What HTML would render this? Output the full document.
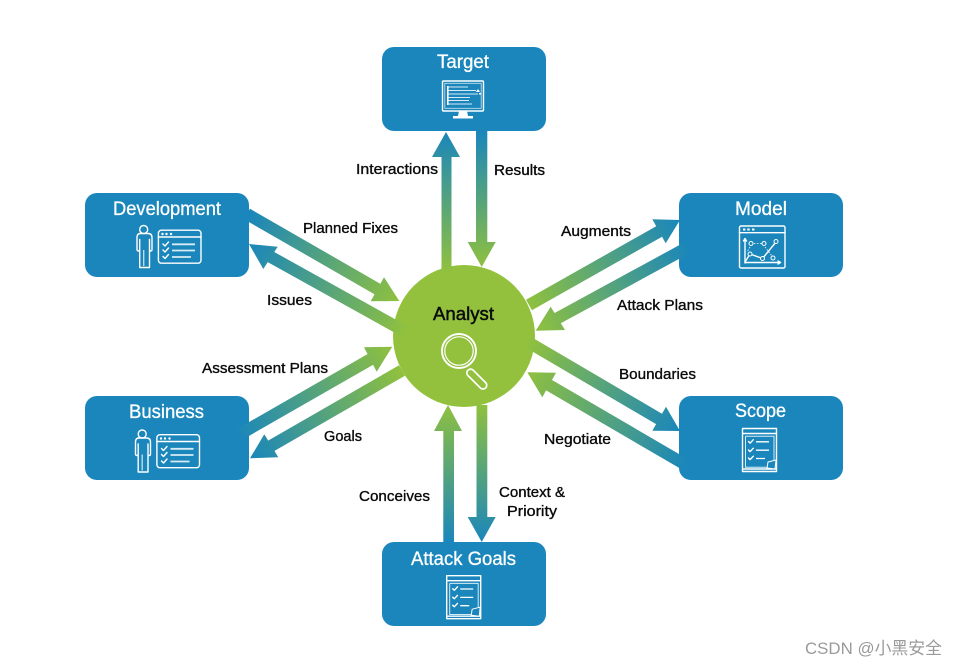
<!DOCTYPE html>
<html>
<head>
<meta charset="utf-8">
<style>
html,body{margin:0;padding:0;background:#fff;width:957px;height:666px;overflow:hidden}
svg{display:block}
.l{font-family:"Liberation Sans",sans-serif;font-size:15px;fill:#0a0a0a;stroke:#0a0a0a;stroke-width:.35px}
.t{font-family:"Liberation Sans",sans-serif;font-size:19.5px;fill:#fff;stroke:#fff;stroke-width:.3px}
.i{fill:none;stroke:#fff;stroke-width:1.4;stroke-linejoin:round;stroke-linecap:round}
.s{fill:none;stroke:#d8ebf4;stroke-width:1.8;stroke-linecap:butt}
</style>
</head>
<body>
<svg width="957" height="666" viewBox="0 0 957 666" xmlns="http://www.w3.org/2000/svg">
<defs>
<linearGradient id="g1" gradientUnits="userSpaceOnUse" x1="446" y1="132" x2="446" y2="270"><stop offset="0" stop-color="#1a86bb"/><stop offset="1" stop-color="#8fc03f"/></linearGradient>
<linearGradient id="g2" gradientUnits="userSpaceOnUse" x1="482" y1="131" x2="482" y2="267"><stop offset="0" stop-color="#1a86bb"/><stop offset="1" stop-color="#8fc03f"/></linearGradient>
<linearGradient id="g3" gradientUnits="userSpaceOnUse" x1="249" y1="215" x2="399" y2="301"><stop offset="0" stop-color="#1a86bb"/><stop offset="1" stop-color="#8fc03f"/></linearGradient>
<linearGradient id="g4" gradientUnits="userSpaceOnUse" x1="249" y1="244" x2="404" y2="331"><stop offset="0" stop-color="#1a86bb"/><stop offset="1" stop-color="#8fc03f"/></linearGradient>
<linearGradient id="g5" gradientUnits="userSpaceOnUse" x1="680" y1="220" x2="529" y2="305"><stop offset="0" stop-color="#1a86bb"/><stop offset="1" stop-color="#8fc03f"/></linearGradient>
<linearGradient id="g6" gradientUnits="userSpaceOnUse" x1="690" y1="248" x2="536" y2="331"><stop offset="0" stop-color="#1a86bb"/><stop offset="1" stop-color="#8fc03f"/></linearGradient>
<linearGradient id="g7" gradientUnits="userSpaceOnUse" x1="237" y1="436" x2="392" y2="347"><stop offset="0" stop-color="#1a86bb"/><stop offset="1" stop-color="#8fc03f"/></linearGradient>
<linearGradient id="g8" gradientUnits="userSpaceOnUse" x1="250" y1="458" x2="400" y2="372"><stop offset="0" stop-color="#1a86bb"/><stop offset="1" stop-color="#8fc03f"/></linearGradient>
<linearGradient id="g9" gradientUnits="userSpaceOnUse" x1="680" y1="431" x2="530" y2="343"><stop offset="0" stop-color="#1a86bb"/><stop offset="1" stop-color="#8fc03f"/></linearGradient>
<linearGradient id="g10" gradientUnits="userSpaceOnUse" x1="686" y1="465" x2="527" y2="372"><stop offset="0" stop-color="#1a86bb"/><stop offset="1" stop-color="#8fc03f"/></linearGradient>
<linearGradient id="g11" gradientUnits="userSpaceOnUse" x1="448" y1="542" x2="448" y2="405"><stop offset="0" stop-color="#1a86bb"/><stop offset="1" stop-color="#8fc03f"/></linearGradient>
<linearGradient id="g12" gradientUnits="userSpaceOnUse" x1="482" y1="542" x2="482" y2="405"><stop offset="0" stop-color="#1a86bb"/><stop offset="1" stop-color="#8fc03f"/></linearGradient>
</defs>

<rect width="957" height="666" fill="#fff"/>

<!-- boxes -->
<g fill="#1a86bb">
<rect x="382" y="47" width="164" height="84" rx="12"/>
<rect x="85" y="193" width="164" height="84" rx="12"/>
<rect x="679" y="193" width="164" height="84" rx="12"/>
<rect x="85" y="396" width="164" height="84" rx="12"/>
<rect x="679" y="396" width="164" height="84" rx="12"/>
<rect x="382" y="542" width="164" height="84" rx="12"/>
</g>

<!-- circle -->
<circle cx="464" cy="336" r="71" fill="#93c13e"/>

<!-- arrows -->
<polygon fill="url(#g1)" points="441.5,272 451.5,272 451.5,157 460,157 446,132 432,157 441.5,157"/>
<polygon fill="url(#g2)" points="476,131 487.3,131 487.3,242 495.7,242 481.7,267 467.7,242 476,242"/>

<line x1="247" y1="214" x2="380" y2="290.5" stroke="url(#g3)" stroke-width="12"/>
<polygon fill="url(#g3)" points="399.3,301 384,277.3 370.7,301.3"/>

<line x1="404" y1="331" x2="270" y2="256.5" stroke="url(#g4)" stroke-width="12"/>
<polygon fill="url(#g4)" points="249,244 277.7,246.7 263.3,269"/>

<line x1="529" y1="305" x2="660" y2="231" stroke="url(#g5)" stroke-width="12"/>
<polygon fill="url(#g5)" points="680,220 652.3,219.3 665.7,243.3"/>

<line x1="692" y1="245" x2="557" y2="318.5" stroke="url(#g6)" stroke-width="12"/>
<polygon fill="url(#g6)" points="535.7,330.7 550.7,306.7 565,330"/>

<line x1="235" y1="437" x2="372" y2="358.5" stroke="url(#g7)" stroke-width="12"/>
<polygon fill="url(#g7)" points="392.3,346.7 364,347.3 376.7,371.7"/>

<line x1="402" y1="370.5" x2="270" y2="446.5" stroke="url(#g8)" stroke-width="12"/>
<polygon fill="url(#g8)" points="250,458.3 264.3,434.3 278.3,457.3"/>

<line x1="528" y1="342" x2="660" y2="419.5" stroke="url(#g9)" stroke-width="12"/>
<polygon fill="url(#g9)" points="680,431 666,406.7 652.3,430.7"/>

<line x1="686" y1="465" x2="547" y2="384" stroke="url(#g10)" stroke-width="12"/>
<polygon fill="url(#g10)" points="527.3,372.3 556,372.7 542.3,397.3"/>

<polygon fill="url(#g11)" points="443.3,542 454,542 454,431 462,431 448,405 434,431 443.3,431"/>
<polygon fill="url(#g12)" points="476.5,405 487.3,405 487.3,517 495.7,517 481.7,542 467.7,517 476.5,517"/>

<!-- box titles -->
<text class="t" x="437" y="68" textLength="52" lengthAdjust="spacingAndGlyphs">Target</text>
<text class="t" x="113" y="215" textLength="108" lengthAdjust="spacingAndGlyphs">Development</text>
<text class="t" x="735" y="215" textLength="52" lengthAdjust="spacingAndGlyphs">Model</text>
<text class="t" x="129" y="418" textLength="75" lengthAdjust="spacingAndGlyphs">Business</text>
<text class="t" x="735" y="417" textLength="51" lengthAdjust="spacingAndGlyphs">Scope</text>
<text class="t" x="411" y="565" textLength="105" lengthAdjust="spacingAndGlyphs">Attack Goals</text>

<!-- Analyst -->
<text x="433" y="320" textLength="61" lengthAdjust="spacingAndGlyphs" font-family="'Liberation Sans',sans-serif" font-size="18.5" fill="#0a0a0a" stroke="#0a0a0a" stroke-width=".45">Analyst</text>
<g fill="none" stroke="#fff">
<circle cx="459" cy="351" r="17" stroke-width="1.9"/>
<circle cx="459" cy="351" r="14.2" stroke-width="1.2"/>
<rect x="470" y="369" width="25" height="7.5" rx="3.7" transform="rotate(45 472 369)" stroke-width="1.7"/>
</g>

<!-- labels -->
<text class="l" x="356" y="174" textLength="82" lengthAdjust="spacingAndGlyphs">Interactions</text>
<text class="l" x="494" y="175" textLength="51" lengthAdjust="spacingAndGlyphs">Results</text>
<text class="l" x="303" y="233" textLength="95" lengthAdjust="spacingAndGlyphs">Planned Fixes</text>
<text class="l" x="267" y="305" textLength="45" lengthAdjust="spacingAndGlyphs">Issues</text>
<text class="l" x="561" y="236" textLength="70" lengthAdjust="spacingAndGlyphs">Augments</text>
<text class="l" x="617" y="310" textLength="86" lengthAdjust="spacingAndGlyphs">Attack Plans</text>
<text class="l" x="619" y="379" textLength="77" lengthAdjust="spacingAndGlyphs">Boundaries</text>
<text class="l" x="544" y="444" textLength="67" lengthAdjust="spacingAndGlyphs">Negotiate</text>
<text class="l" x="202" y="373" textLength="126" lengthAdjust="spacingAndGlyphs">Assessment Plans</text>
<text class="l" x="324" y="441" textLength="38" lengthAdjust="spacingAndGlyphs">Goals</text>
<text class="l" x="359" y="501" textLength="71" lengthAdjust="spacingAndGlyphs">Conceives</text>
<text class="l" x="499" y="497" textLength="66" lengthAdjust="spacingAndGlyphs">Context &amp;</text>
<text class="l" x="507" y="516" textLength="50" lengthAdjust="spacingAndGlyphs">Priority</text>

<!-- Target monitor icon -->
<g>
<rect x="442.5" y="81" width="41" height="30" rx="1" class="i"/>
<rect x="444.8" y="83.3" width="36.4" height="25" fill="none" stroke="#cfe5f0" stroke-width=".8"/>
<path d="M459 111 h8 l1 5 h5 v2.5 h-20 v-2.5 h5 z" fill="#fff"/>
<g stroke="#d8ebf4" stroke-width="1">
<path d="M448.5 87 H468 M448.5 90.5 H476 M448.5 94 H478 M448.5 97.5 H470 M448.5 100.5 H469 M448.5 104 H472"/>
</g>
<g fill="#fff">
<rect x="447" y="86" width="1.6" height="19"/>
<path d="M476 92 l2-3 2 3z M479 93 h2 v1.5 h-2z"/>
</g>
</g>

<!-- Development icon -->
<g>
<circle cx="143.7" cy="229.5" r="4" class="i"/>
<path class="i" d="M139.5 233.5 h8.5 q4 0 4 4 v12 q0 1.5 -1.2 1.5 t-1.3 -1.5 v-10 v28 h-8.8 h-1 v-28 v10 q0 1.5 -1.3 1.5 t-1.4 -1.5 v-12 q0 -4 3.5 -4 z"/>
<path d="M143.7 250 v16" stroke="#bcdcec" stroke-width="1.4" fill="none"/>
<rect x="158.4" y="230.2" width="42.6" height="33" rx="3" class="i"/>
<path d="M158.4 237 H201" class="i"/>
<g fill="#fff"><circle cx="162.5" cy="234" r="1.2"/><circle cx="166.5" cy="234" r="1.2"/><circle cx="171" cy="234" r="1.2"/></g>
<path class="i" d="M163 244 l2 2 3.5 -4 M163 250 l2 2 3.5 -4 M163 256.5 l2 2 3.5 -4"/>
<path class="s" d="M172 244.3 H195 M172 250.5 H195 M172 257 H191"/>
</g>
<!-- Business icon -->
<g transform="translate(-1.5 204.5)">
<circle cx="143.7" cy="229.5" r="4" class="i"/>
<path class="i" d="M139.5 233.5 h8.5 q4 0 4 4 v12 q0 1.5 -1.2 1.5 t-1.3 -1.5 v-10 v28 h-8.8 h-1 v-28 v10 q0 1.5 -1.3 1.5 t-1.4 -1.5 v-12 q0 -4 3.5 -4 z"/>
<path d="M143.7 250 v16" stroke="#bcdcec" stroke-width="1.4" fill="none"/>
<rect x="158.4" y="230.2" width="42.6" height="33" rx="3" class="i"/>
<path d="M158.4 237 H201" class="i"/>
<g fill="#fff"><circle cx="162.5" cy="234" r="1.2"/><circle cx="166.5" cy="234" r="1.2"/><circle cx="171" cy="234" r="1.2"/></g>
<path class="i" d="M163 244 l2 2 3.5 -4 M163 250 l2 2 3.5 -4 M163 256.5 l2 2 3.5 -4"/>
<path class="s" d="M172 244.3 H195 M172 250.5 H195 M172 257 H191"/>
</g>

<!-- Model icon -->
<g>
<rect x="739.5" y="226" width="45.5" height="42" rx="1.5" class="i"/>
<path class="i" d="M739.5 232.7 H785"/>
<g fill="#fff"><rect x="743" y="228.5" width="2.4" height="2"/><rect x="747.3" y="228.5" width="2.4" height="2"/><rect x="752" y="228.5" width="2.4" height="2"/></g>
<path class="i" d="M745 263 V239 M743.5 241 L745 238.5 L746.5 241 M745 262.5 H780 M778 261 L780.5 262.5 L778 264"/>
<path class="i" d="M745 262 L750 254 L762.5 258.5 L776 242"/>
<path d="M751 243.5 H764 M750 247 L747 252 M765 247 L772 256" fill="none" stroke="#fff" stroke-width=".8" stroke-dasharray="1.5 1.5"/>
<g fill="#1a86bb" stroke="#fff" stroke-width="1">
<circle cx="750" cy="254" r="2"/><circle cx="762.5" cy="258.5" r="2"/><circle cx="776" cy="241.5" r="2"/>
<circle cx="751" cy="243.5" r="2"/><circle cx="764" cy="243.5" r="2"/><circle cx="773" cy="258" r="2"/>
</g>
</g>

<!-- Scope doc icon -->
<g>
<path class="i" d="M742.5 428.5 H776.5 V471.5 H742.5 Z M742.5 433.5 H776.5 M742.5 469 H776.5"/>
<path d="M745.5 436.2 H774 V460 M767 467.3 H745.5 V436.2" fill="none" stroke="#d8ebf4" stroke-width="1"/>
<path d="M768 462 L776 460 L775 469 L767 468 Z" fill="#1a86bb" stroke="#fff" stroke-width="1"/>
<path class="i" d="M748.5 441.5 l1.6 1.6 3.2 -3.4 M748.5 450 l1.6 1.6 3.2 -3.4 M748.5 458 l1.6 1.6 3.2 -3.4"/>
<path d="M756 441.8 H769 M756 450.2 H769 M756 458.5 H765" fill="none" stroke="#fff" stroke-width="1.3"/>
</g>
<!-- Attack Goals doc icon -->
<g transform="translate(-295.8 147.2)">
<path class="i" d="M742.5 428.5 H776.5 V471.5 H742.5 Z M742.5 433.5 H776.5 M742.5 469 H776.5"/>
<path d="M745.5 436.2 H774 V460 M767 467.3 H745.5 V436.2" fill="none" stroke="#d8ebf4" stroke-width="1"/>
<path d="M768 462 L776 460 L775 469 L767 468 Z" fill="#1a86bb" stroke="#fff" stroke-width="1"/>
<path class="i" d="M748.5 441.5 l1.6 1.6 3.2 -3.4 M748.5 450 l1.6 1.6 3.2 -3.4 M748.5 458 l1.6 1.6 3.2 -3.4"/>
<path d="M756 441.8 H769 M756 450.2 H769 M756 458.5 H765" fill="none" stroke="#fff" stroke-width="1.3"/>
</g>

<!-- watermark -->
<text x="805" y="654" textLength="137" lengthAdjust="spacingAndGlyphs" font-family="'Liberation Sans','Noto Sans CJK SC',sans-serif" font-size="17" fill="#9a9a9a">CSDN @小黑安全</text>
</svg>
</body>
</html>
